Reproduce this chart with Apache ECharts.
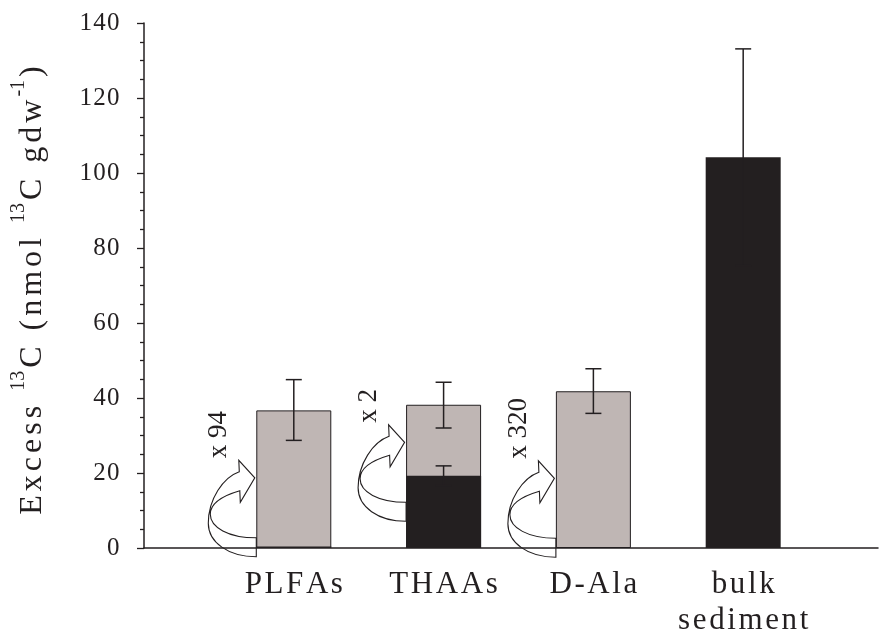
<!DOCTYPE html>
<html><head><meta charset="utf-8">
<script src="https://cdn.jsdelivr.net/npm/echarts@6/dist/echarts.min.js"></script>
<style>html,body{margin:0;padding:0;background:#fff}#c{width:880px;height:639px}</style>
</head><body><div id="c"></div>
<script>
// ---- data ----
const categories = ['PLFAs', 'THAAs', 'D-Ala', 'bulk\nsediment'];
const categoryPos = [1, 2, 3, 4];
const labeledValues = [36.7, 38.2, 41.8];        // grey bars (scaled-up label)
const labeledErrLow = [28.7, 32.0, 35.9];
const labeledErrHigh = [44.9, 44.2, 47.8];
const totalValues = [0.39, 19.3, 0.13, 104.2];   // black bars
const totalErrLow = [null, 16.7, null, 75.3];
const totalErrHigh = [null, 21.9, null, 133.1];
const factorLabels = ['x 94', 'x 2', 'x 320'];
const yTickStep = 20;

// ---- style ----
const INK = '#231f20';
const GREY = '#bfb6b4';
const FONT = 'Liberation Serif';
const BAR_W = 75;

function spaced(str, key) {
  return str.split('\n').map(line =>
    Array.from(line).map(ch => '{' + key + '|' + ch + '}').join('')
  ).join('\n');
}

const yName = spaced('Excess ', 'a') + '{s|13}' + spaced('C (nmol ', 'a') + '{s|13}' +
  spaced('C gdw', 'a') + '{s|-1}' + spaced(')', 'a');

const errData = [];
labeledValues.forEach((v, i) => errData.push([categoryPos[i], labeledErrLow[i], labeledErrHigh[i]]));
totalValues.forEach((v, i) => { if (totalErrHigh[i] != null) errData.push([categoryPos[i], totalErrLow[i], totalErrHigh[i]]); });

const arrowData = factorLabels.map((t, i) => [categoryPos[i], totalValues[i] / 2, i]);

const ARROW_PATH = 'M0 9.5 C-28 9.5 -48 -5 -48 -24 C-48 -48 -33 -70 -17 -75.5 L-17.5 -87 L-1.5 -69.5 L-16 -45 L-16.5 -56.5 C-32 -52 -46 -45 -46 -33 C-46 -20 -28 -9.5 0 -9.5 Z';

const chart = echarts.init(document.getElementById('c'), null, { renderer: 'canvas' });
chart.setOption({
  animation: false,
  backgroundColor: '#fff',
  grid: { left: 144, right: 2, top: 23, bottom: 91 },
  xAxis: {
    type: 'value', min: 0, max: 4.9, interval: 1,
    axisLine: { lineStyle: { color: INK, width: 1.5 } },
    axisTick: { show: false },
    splitLine: { show: false },
    axisLabel: {
      margin: 19,
      showMaxLabel: false,
      formatter: v => { const i = categoryPos.indexOf(v); return i < 0 ? '' : spaced(categories[i], 'x'); },
      rich: { x: { fontFamily: FONT, fontSize: 31, lineHeight: 36, color: INK, padding: [0, 1.3] } }
    }
  },
  yAxis: {
    type: 'value', min: 0, max: 140, interval: yTickStep,
    axisLine: { show: true, lineStyle: { color: INK, width: 1.5 } },
    axisTick: { show: true, length: 7, lineStyle: { color: INK, width: 1.3 } },
    minorTick: { show: true, splitNumber: 4, length: 4, lineStyle: { color: INK, width: 1.3 } },
    splitLine: { show: false },
    axisLabel: {
      margin: 24,
      formatter: v => spaced(String(v), 't'),
      rich: { t: { fontSize: 25, fontFamily: FONT, color: INK, padding: [0, 0.6] } }
    },
    name: yName,
    nameLocation: 'middle',
    nameGap: 95,
    nameTextStyle: {
      padding: [0, 10, 0, 0],
      rich: {
        a: { fontFamily: FONT, fontSize: 32, lineHeight: 40, color: INK, padding: [0, 2.0], verticalAlign: 'bottom' },
        s: { fontFamily: FONT, fontSize: 20, lineHeight: 16, color: INK, padding: [0, 1], verticalAlign: 'top' }
      }
    }
  },
  series: [
    {
      type: 'bar', barWidth: BAR_W, barGap: '-100%',
      data: labeledValues.map((v, i) => [categoryPos[i], v]),
      itemStyle: { color: GREY, borderColor: INK, borderWidth: 1 },
      z: 2
    },
    {
      type: 'bar', barWidth: BAR_W, barGap: '-100%',
      data: totalValues.map((v, i) => [categoryPos[i], v]),
      itemStyle: { color: INK },
      z: 3
    },
    {
      type: 'custom', z: 5,
      data: errData,
      encode: { x: 0, y: [1, 2] },
      renderItem: (params, api) => {
        const x = api.value(0);
        const hi = api.coord([x, api.value(2)]);
        const lo = api.coord([x, api.value(1)]);
        const w = 8;
        const st = { stroke: INK, lineWidth: 1.5 };
        return {
          type: 'group', children: [
            { type: 'line', shape: { x1: hi[0], y1: hi[1], x2: lo[0], y2: lo[1] }, style: st },
            { type: 'line', shape: { x1: hi[0] - w, y1: hi[1], x2: hi[0] + w, y2: hi[1] }, style: st },
            { type: 'line', shape: { x1: lo[0] - w, y1: lo[1], x2: lo[0] + w, y2: lo[1] }, style: st }
          ]
        };
      }
    },
    {
      type: 'custom', z: 6,
      data: arrowData,
      encode: { x: 0, y: 1 },
      renderItem: (params, api) => {
        const c = api.coord([api.value(0), api.value(1)]);
        const left = c[0] - BAR_W / 2;
        return {
          type: 'group', children: [
            { type: 'path', x: left, y: c[1], shape: { pathData: ARROW_PATH },
              style: { fill: 'none', stroke: INK, lineWidth: 1.1 } },
            { type: 'text', x: left - 37, y: c[1] - 89, rotation: Math.PI / 2,
              style: { text: factorLabels[api.value(2)], fontFamily: FONT, fontSize: 27, fill: INK,
                       align: 'left', verticalAlign: 'middle' } }
          ]
        };
      }
    }
  ]
});
</script></body></html>
